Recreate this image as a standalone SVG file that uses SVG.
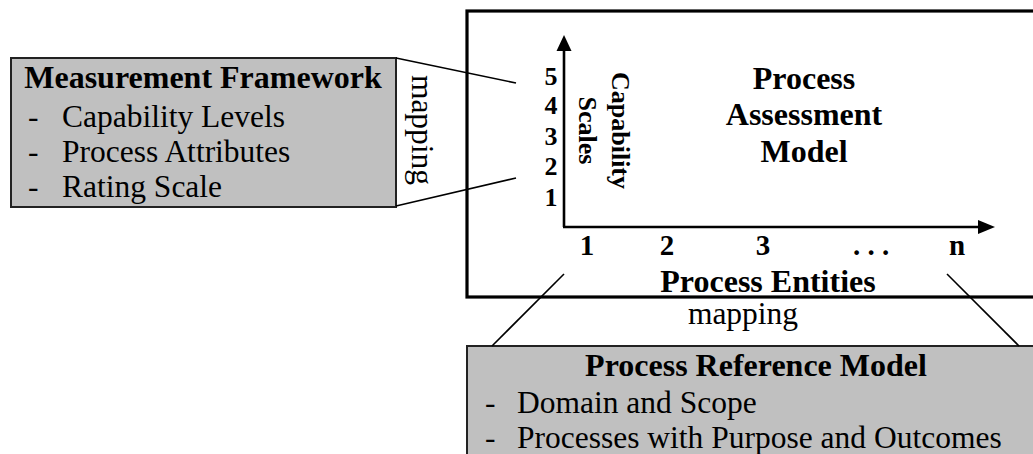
<svg xmlns="http://www.w3.org/2000/svg" width="1033" height="454" viewBox="0 0 1033 454">
<style>
text{font-family:"Liberation Serif","Times New Roman",serif;fill:#000}
.b{font-weight:bold;font-size:32px}
.r{font-size:31.5px}
.box{fill:#c0c0c0;stroke:#222;stroke-width:2}
.ln{stroke:#000;stroke-width:1.6;fill:none}
.ax{stroke:#000;stroke-width:2.6;fill:none}
.yd{font-weight:bold;font-size:26px}
.xd{font-weight:bold;font-size:29px}
.rot{font-weight:bold;font-size:26px}
</style>
<rect width="1033" height="454" fill="#fff"/>
<g id="measurement-framework">
<rect class="box" x="11" y="58" width="385" height="149"/>
<text class="b" x="203" y="88" text-anchor="middle">Measurement Framework</text>
<text class="r" x="28" y="127">-</text><text class="r" x="62" y="127">Capability Levels</text>
<text class="r" x="28" y="162">-</text><text class="r" x="62" y="162">Process Attributes</text>
<text class="r" x="28" y="197">-</text><text class="r" x="62" y="197">Rating Scale</text>
</g>
<g id="process-assessment-model">
<rect x="467" y="11" width="620" height="286" fill="#fff" stroke="#000" stroke-width="3.2"/>
<line class="ax" x1="564" y1="227" x2="564" y2="50"/>
<polygon points="564,35 556.5,51 571.5,51" fill="#000"/>
<line class="ax" x1="563" y1="227" x2="979" y2="227"/>
<polygon points="995,227 978,220 978,234" fill="#000"/>
<text class="yd" x="551" y="85" text-anchor="middle">5</text>
<text class="yd" x="551" y="114" text-anchor="middle">4</text>
<text class="yd" x="551" y="145" text-anchor="middle">3</text>
<text class="yd" x="551" y="175" text-anchor="middle">2</text>
<text class="yd" x="551" y="206" text-anchor="middle">1</text>
<text class="rot" transform="translate(612,130.5) rotate(90)" text-anchor="middle">Capability</text>
<text class="rot" transform="translate(579,130.5) rotate(90)" text-anchor="middle">Scales</text>
<text class="b" x="804" y="89" text-anchor="middle">Process</text>
<text class="b" x="804" y="125" text-anchor="middle">Assessment</text>
<text class="b" x="804" y="162" text-anchor="middle">Model</text>
<text class="xd" x="587" y="255" text-anchor="middle">1</text>
<text class="xd" x="667" y="255" text-anchor="middle">2</text>
<text class="xd" x="763" y="255" text-anchor="middle">3</text>
<text class="xd" x="871" y="255" text-anchor="middle">. . .</text>
<text class="xd" x="957" y="255" text-anchor="middle">n</text>
<text class="b" x="768" y="292" text-anchor="middle">Process Entities</text>
</g>
<g id="process-reference-model">
<rect class="box" x="467" y="346" width="620" height="140"/>
<text class="b" x="756" y="376" text-anchor="middle">Process Reference Model</text>
<text class="r" x="485" y="413">-</text><text class="r" x="517" y="413">Domain and Scope</text>
<text class="r" x="485" y="448">-</text><text class="r" x="517" y="448">Processes with Purpose and Outcomes</text>
</g>
<g id="connectors">
<line class="ln" x1="396" y1="58" x2="516" y2="83"/>
<line class="ln" x1="396" y1="206" x2="516" y2="178"/>
<text class="r" transform="translate(412,130) rotate(90)" text-anchor="middle">mapping</text>
<line class="ln" x1="564" y1="274" x2="492" y2="346"/>
<line class="ln" x1="947" y1="274" x2="1019" y2="346"/>
<text class="r" x="743" y="324" text-anchor="middle">mapping</text>
</g>
</svg>
